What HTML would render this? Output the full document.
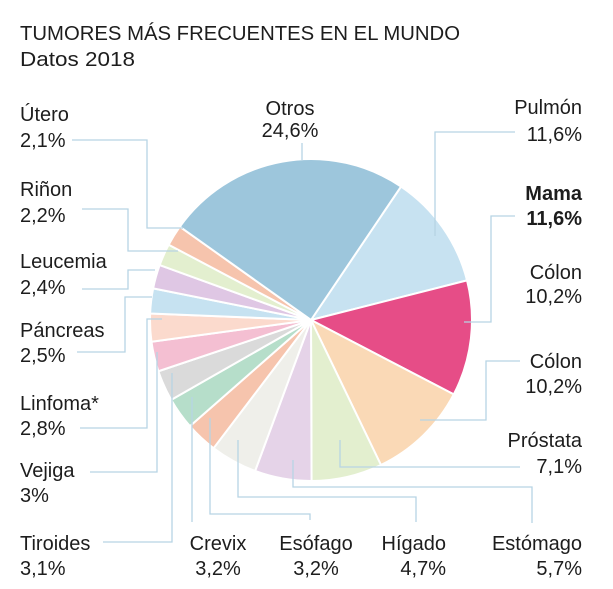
<!DOCTYPE html>
<html><head><meta charset="utf-8"><style>
html,body{margin:0;padding:0;background:#fff;}
svg{display:block;}
text{font-family:"Liberation Sans",sans-serif;fill:#1d1d1d;font-size:20px;}
.r{text-anchor:end;}
.m{text-anchor:middle;}
</style></head><body>
<svg id="s" width="613" height="589" viewBox="0 0 613 589">
<text x="20" y="40" font-size="26" textLength="440" lengthAdjust="spacingAndGlyphs">TUMORES MÁS FRECUENTES EN EL MUNDO</text>
<text x="20" y="66" font-size="26" textLength="115" lengthAdjust="spacingAndGlyphs">Datos 2018</text>
<g id="pie"></g>
<g fill="none" stroke="#b7d4e4" stroke-width="1.3">
<polyline points="302,143 302,160"/>
<polyline points="515,132 435,132 435,236"/>
<polyline points="515,216 491,216 491,322 464,322"/>
<polyline points="520,361 486,361 486,420 420,420"/>
<polyline points="340,440 340,467 520,467"/>
<polyline points="293,460 293,487 532,487 532,523"/>
<polyline points="72,140 147,140 147,228 183,228"/>
<polyline points="82,209 128,209 128,251 178,251"/>
<polyline points="82,289 128,289 128,270 155,270"/>
<polyline points="77,352 125,352 125,297 152,297"/>
<polyline points="80,428 147,428 147,319 162,319"/>
<polyline points="90,472 157,472 157,352"/>
<polyline points="103,542 172,542 172,373"/>
<polyline points="192,397 192,522"/>
<polyline points="210,418 210,514 310,514 310,520"/>
<polyline points="238,440 238,497 416,497 416,522"/>
</g>
<text x="20" y="121">Útero</text><text x="20" y="147">2,1%</text>
<text x="20" y="196">Riñon</text><text x="20" y="222">2,2%</text>
<text x="20" y="268">Leucemia</text><text x="20" y="294">2,4%</text>
<text x="20" y="337">Páncreas</text><text x="20" y="362">2,5%</text>
<text x="20" y="410">Linfoma*</text><text x="20" y="435">2,8%</text>
<text x="20" y="477">Vejiga</text><text x="20" y="502">3%</text>
<text x="20" y="550">Tiroides</text><text x="20" y="575">3,1%</text>
<text x="218" y="550" class="m">Crevix</text><text x="218" y="575" class="m">3,2%</text>
<text x="316" y="550" class="m">Esófago</text><text x="316" y="575" class="m">3,2%</text>
<text x="446" y="550" class="r">Hígado</text><text x="446" y="575" class="r">4,7%</text>
<text x="582" y="550" class="r">Estómago</text><text x="582" y="575" class="r">5,7%</text>
<text x="290" y="115" class="m">Otros</text><text x="290" y="137" class="m">24,6%</text>
<text x="582" y="114" class="r">Pulmón</text><text x="582" y="141" class="r">11,6%</text>
<text x="582" y="200" class="r" font-weight="bold">Mama</text><text x="582" y="225" class="r" font-weight="bold">11,6%</text>
<text x="582" y="279" class="r">Cólon</text><text x="582" y="303" class="r">10,2%</text>
<text x="582" y="368" class="r">Cólon</text><text x="582" y="393" class="r">10,2%</text>
<text x="582" y="447" class="r">Próstata</text><text x="582" y="473" class="r">7,1%</text>
</svg>
<script>
var data=[[11.6,"#c7e2f1"],[11.6,"#e64d87"],[10.2,"#fad9b6"],[7.1,"#e3efcf"],[5.7,"#e5d3e8"],[4.7,"#efefea"],[3.2,"#f6c4ad"],[3.2,"#b6deca"],[3.1,"#dadada"],[3,"#f4bfd2"],[2.8,"#fbdacd"],[2.5,"#c6e2f1"],[2.4,"#dfc7e4"],[2.2,"#e3efcf"],[2.1,"#f6c4ad"],[24.6,"#9dc6dc"]];
var cx=311,cy=320,r=161,a=34,g=document.getElementById("pie"),h="";
function pt(d){var t=d*Math.PI/180;return [(cx+r*Math.sin(t)).toFixed(2),(cy-r*Math.cos(t)).toFixed(2)];}
data.forEach(function(d){var s=a,e=a+d[0]*3.6;var p1=pt(s),p2=pt(e);
h+='<path d="M'+cx+','+cy+' L'+p1[0]+','+p1[1]+' A'+r+','+r+' 0 '+((e-s)>180?1:0)+' 1 '+p2[0]+','+p2[1]+' Z" fill="'+d[1]+'" stroke="#fff" stroke-width="2" stroke-linejoin="round"/>';a=e;});
g.innerHTML=h;
</script>
</body></html>
